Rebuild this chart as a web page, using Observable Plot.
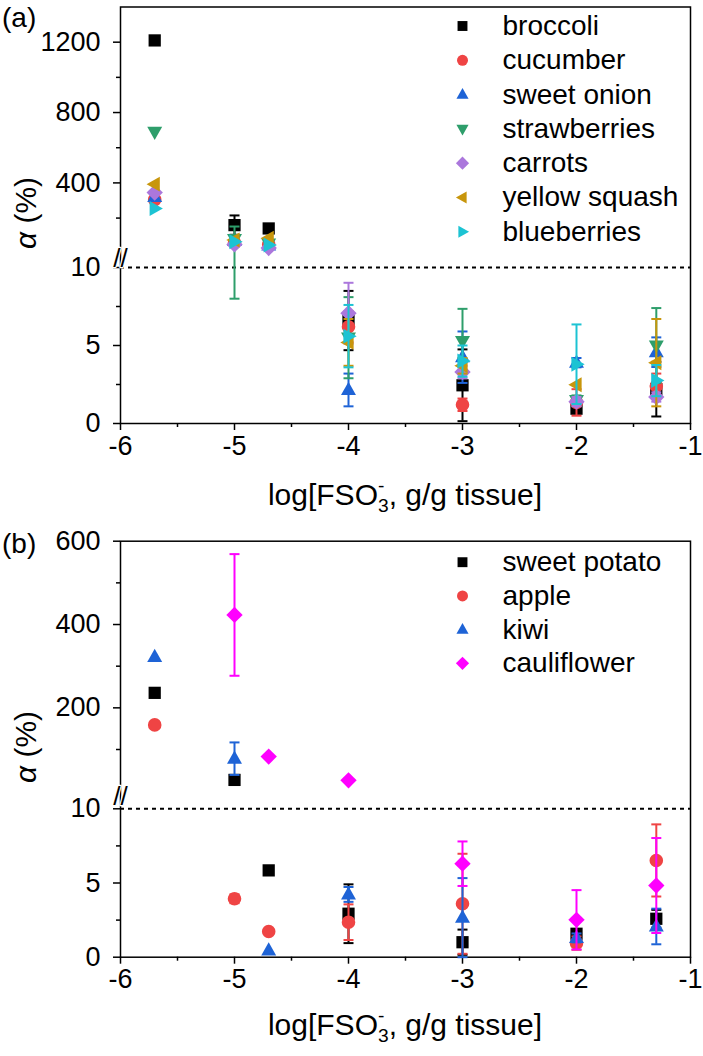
<!DOCTYPE html>
<html lang="en">
<head>
<meta charset="UTF-8" />
<title>alpha vs log FSO3</title>
<style>
  body { margin: 0; background: #fff; font-family: "Liberation Sans", Arial, sans-serif; color: #000; }
  .panel { position: relative; width: 703px; height: 528px; }
  .panel svg { position: absolute; left: 0; top: 0; overflow: visible; }
  .tag { position: absolute; left: 2px; font-size: 28px; line-height: 1; }
  .ylab { position: absolute; left: 26px; font-size: 30px; white-space: nowrap; transform: translate(-50%, -50%) rotate(-90deg); }
  .xlab { position: absolute; left: 405px; font-size: 30px; white-space: nowrap; transform: translate(-50%, -50%); }
  .ss { display: inline-flex; flex-direction: column; font-size: 0.64em; line-height: 1.05; vertical-align: 0.7em; }
</style>
</head>
<body>
<div class="panel" id="pa">
  <div class="tag" style="top:4px">(a)</div>
  <div class="ylab" style="top:213px"><i>α</i> (%)</div>
  <div class="xlab" style="top:496px">log[FSO<span class="ss"><span>-</span><span>3</span></span>, g/g tissue]</div>
</div>
<div class="panel" id="pb">
  <div class="tag" style="top:2px">(b)</div>
  <div class="ylab" style="top:219px"><i>α</i> (%)</div>
  <div class="xlab" style="top:498px">log[FSO<span class="ss"><span>-</span><span>3</span></span>, g/g tissue]</div>
</div>

<script src="https://cdn.jsdelivr.net/npm/d3@7"></script>
<script src="https://cdn.jsdelivr.net/npm/@observablehq/plot@0.6"></script>
<script>
// x positions (log of FSO3- dose), same for both panels
const xVals = [-5.7, -5, -4.7, -4, -3, -2, -1.3];

// panel (a)
const broccoli = [1210, 160, 141, 6.6, 2.45, 0.95, 2.2];
const broccoliErr = [0, 55, 0, 1.9, 2.3, 0.3, 1.75];
const cucumber = [305, 60, 50, 6.2, 1.2, 1.35, 2.4];
const cucumberErr = [0, 0, 0, 1.0, 0.4, 0.85, 0.8];
const sweetOnion = [320, 70, 45, 2.15, 4.25, 3.9, 4.57];
const sweetOnionErr = [0, 0, 0, 1.05, 1.65, 0.3, 0.95];
const strawberries = [690, 80, 55, 5.5, 5.28, 1.5, 5.0];
const strawberriesErr = [0, 72, 0, 2.6, 2.07, 0.3, 2.4];
const carrots = [345, 50, 30, 7.07, 3.3, 1.4, 1.7];
const carrotsErr = [0, 0, 0, 1.95, 0.4, 0.3, 0.3];
const yellowSquash = [393, 75, 86, 5.2, 3.7, 2.48, 3.9];
const yellowSquashErr = [0, 0, 0, 1.5, 0.5, 0, 2.8];
const blueberries = [255, 65, 47, 5.6, 4.0, 3.8, 2.75];
const blueberriesErr = [0, 0, 0, 2.0, 1.0, 2.55, 1.0];

// panel (b)
const sweetPotato = [236, 27, 5.85, 2.93, 1.01, 1.58, 2.59];
const sweetPotatoErr = [0, 0, 0, 1.98, 0.85, 0.3, 0.6];
const apple = [159, 3.94, 1.73, 2.36, 3.6, 0.95, 6.52];
const appleErr = [0, 0.3, 0, 1.2, 3.37, 0.45, 2.43];
const kiwi = [322, 78, 0.45, 4.23, 2.66, 1.3, 2.07];
const kiwiErr = [0, 39, 0, 0.5, 2.67, 0.3, 1.2];
const cauliflower = [null, 423, 83, 26, 6.3, 2.52, 4.83];
const cauliflowerErr = [0, 146, 0, 0, 1.5, 2.0, 3.2];

// axis ticks
const xMajor = [-6, -5, -4, -3, -2, -1];
const xMinor = [-5.5, -4.5, -3.5, -2.5, -1.5];
const yMajorA = [0, 5, 10, 400, 800, 1200];
const yMinorA = [2.5, 7.5, 200, 600, 1000];
const yMajorB = [0, 5, 10, 200, 400, 600];
const yMinorB = [2.5, 7.5, 100, 300, 500];

// marker shapes
const poly = pts => ({
  draw(ctx, size) {
    const r = Math.sqrt(size / Math.PI);
    ctx.moveTo(pts[0][0] * r, pts[0][1] * r);
    for (const [a, b] of pts.slice(1)) ctx.lineTo(a * r, b * r);
    ctx.closePath();
  }
});
const SQUARE = poly([[-0.9, -0.9], [0.9, -0.9], [0.9, 0.9], [-0.9, 0.9]]);
const CIRCLE = {draw(ctx, size) { const r = Math.sqrt(size / Math.PI); ctx.moveTo(r, 0); ctx.arc(0, 0, r, 0, 2 * Math.PI); }};
const TRI_UP = poly([[0, -1.2], [1.1, 0.75], [-1.1, 0.75]]);
const TRI_DOWN = poly([[0, 1.2], [1.1, -0.75], [-1.1, -0.75]]);
const TRI_LEFT = poly([[-1.2, 0], [0.75, -1.1], [0.75, 1.1]]);
const TRI_RIGHT = poly([[1.2, 0], [-0.75, -1.1], [-0.75, 1.1]]);
const DIAMOND = poly([[0, -1.2], [1.2, 0], [0, 1.2], [-1.2, 0]]);
const CAP = {draw(ctx, size) { const r = Math.sqrt(size / Math.PI); ctx.moveTo(-r, 0); ctx.lineTo(r, 0); }};

// broken y axis: 0-10 below the break, 10-top above it
function brokenY(lowLen, gap, top, upLen) {
  return v => v <= 10 ? v / 10 * lowLen : lowLen + gap + (v - 10) / (top - 10) * upLen;
}
const yA = brokenY(156, 16, 1400, 244.5);
const yB = brokenY(148.4, 21.8, 600, 245.8);

const seriesA = [
  {name: "broccoli", v: broccoli, e: broccoliErr, color: "#000000", sym: SQUARE},
  {name: "cucumber", v: cucumber, e: cucumberErr, color: "#EF4444", sym: CIRCLE},
  {name: "sweet onion", v: sweetOnion, e: sweetOnionErr, color: "#1E63D6", sym: TRI_UP},
  {name: "strawberries", v: strawberries, e: strawberriesErr, color: "#2E9E6B", sym: TRI_DOWN},
  {name: "carrots", v: carrots, e: carrotsErr, color: "#AB77DC", sym: DIAMOND},
  {name: "yellow squash", v: yellowSquash, e: yellowSquashErr, color: "#C8960C", sym: TRI_LEFT},
  {name: "blueberries", v: blueberries, e: blueberriesErr, color: "#1CC3D3", sym: TRI_RIGHT}
];
const seriesB = [
  {name: "sweet potato", v: sweetPotato, e: sweetPotatoErr, color: "#000000", sym: SQUARE},
  {name: "apple", v: apple, e: appleErr, color: "#EF4444", sym: CIRCLE},
  {name: "kiwi", v: kiwi, e: kiwiErr, color: "#1E63D6", sym: TRI_UP},
  {name: "cauliflower", v: cauliflower, e: cauliflowerErr, color: "#FF00FF", sym: DIAMOND}
];

function drawPanel({series, f, yTop, majors, minors, marginTop, marginBottom, legendDy, legendStep}) {
  const labelOf = new Map(majors.map(t => [f(t), String(t)]));
  const marks = [
    Plot.ruleY([10], {y: d => f(d), stroke: "#000", strokeWidth: 2, strokeDasharray: "4,4"}),
    Plot.axisX({ticks: xMajor, tickSize: 7, tickPadding: 5, fontSize: 27, tickFormat: d => String(d), label: null, strokeWidth: 1.5}),
    Plot.axisX({ticks: xMinor, tickSize: 4, tickFormat: () => "", label: null, strokeWidth: 1.5}),
    Plot.axisY({ticks: majors.map(f), tickSize: 7, tickPadding: 13, fontSize: 27, tickFormat: d => labelOf.get(d), label: null, strokeWidth: 1.5}),
    Plot.axisY({ticks: minors.map(f), tickSize: 4, tickFormat: () => "", label: null, strokeWidth: 1.5}),
    Plot.frame({stroke: "#000", strokeWidth: 1.5}),
    // break symbol on the left axis
    Plot.text(["//"], {x: -6, y: () => f(10) + (f(10.0001) - f(10)) / 2 + 1, text: d => d, fontSize: 26, fill: "#000", stroke: "#fff", strokeWidth: 2.5, paintOrder: "stroke"})
  ];
  series.forEach((s, i) => {
    const rows = xVals.map((x, j) => ({x, v: s.v[j], e: s.e[j]})).filter(d => d.v != null);
    const bars = rows.filter(d => d.e > 0);
    marks.push(
      Plot.ruleX(bars, {x: "x", y1: d => f(Math.max(0, d.v - d.e)), y2: d => f(d.v + d.e), stroke: s.color, strokeWidth: 2}),
      Plot.dot(bars, {x: "x", y: d => f(Math.max(0, d.v - d.e)), symbol: CAP, r: 5, stroke: s.color, strokeWidth: 2, fill: "none"}),
      Plot.dot(bars, {x: "x", y: d => f(d.v + d.e), symbol: CAP, r: 5, stroke: s.color, strokeWidth: 2, fill: "none"}),
      Plot.dot(rows, {x: "x", y: d => f(d.v), symbol: s.sym, r: 6.8, fill: s.color, stroke: "none"}),
      // legend entry
      Plot.dot([s], {frameAnchor: "top-left", dx: 342, dy: legendDy + legendStep * i, symbol: s.sym, r: 5.5, fill: s.color, stroke: "none"}),
      Plot.text([s], {frameAnchor: "top-left", dx: 382, dy: legendDy + legendStep * i, text: "name", textAnchor: "start", lineAnchor: "middle", fontSize: 28, fill: "#000"})
    );
  });
  return Plot.plot({
    width: 703,
    height: 528,
    marginLeft: 120,
    marginRight: 13,
    marginTop,
    marginBottom,
    style: {fontFamily: "'Liberation Sans', Arial, sans-serif", fontSize: "27px", color: "#000", background: "transparent", overflow: "visible"},
    x: {domain: [-6, -1]},
    y: {domain: [0, f(yTop)]},
    marks
  });
}

document.querySelector("#pa").prepend(drawPanel({
  series: seriesA, f: yA, yTop: 1400, majors: yMajorA, minors: yMinorA,
  marginTop: 6.5, marginBottom: 105, legendDy: 19, legendStep: 34.3
}));
document.querySelector("#pb").prepend(drawPanel({
  series: seriesB, f: yB, yTop: 600, majors: yMajorB, minors: yMinorB,
  marginTop: 12.7, marginBottom: 99.3, legendDy: 21, legendStep: 33.7
}));
</script>
</body>
</html>
